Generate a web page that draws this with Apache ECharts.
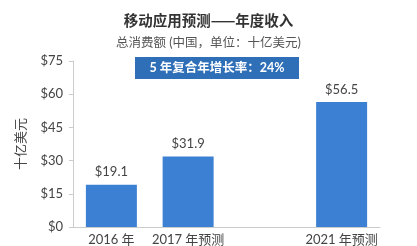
<!DOCTYPE html>
<html><head><meta charset="utf-8">
<script src="https://cdn.jsdelivr.net/npm/echarts@6/dist/echarts.min.js"></script>
<style>html,body{margin:0;padding:0;background:#fff}#c{width:417px;height:246px}</style>
</head><body><div id="c"></div>
<script>
const categories = ['2016 年', '2017 年预测', '', '2021 年预测'];
const revenue = [19.1, 31.9, null, 56.5];
const yTicks = [0, 15, 30, 45, 60, 75];
const titleText = '移动应用预测——年度收入';
const subtitleText = '总消费额 (中国，单位：十亿美元)';
const badgeText = '5 年复合年增长率：24%';
const yName = '十亿美元';

const chart = echarts.init(document.getElementById('c'));
const F = 'Lato,"Noto Sans CJK SC","Noto Sans",sans-serif';
const FC = '"Noto Sans CJK SC","Noto Sans",sans-serif';
chart.setOption({
  animation: false,
  textStyle: {fontFamily: F},
  title: {
    text: titleText, subtext: subtitleText, left: 'center', top: 8, itemGap: 9,
    textStyle: {fontSize: 14.5, fontWeight: 'bold', color: '#333', fontFamily: FC},
    subtextStyle: {fontSize: 12.5, color: '#555', fontFamily: F}
  },
  graphic: [{
    type: 'group', left: 135, top: 57,
    children: [
      {type: 'rect', shape: {x: 0, y: 0, width: 164, height: 22}, style: {fill: '#2f6fb8'}},
      {type: 'text', style: {text: badgeText, x: 82, y: 11, align: 'center', verticalAlign: 'middle', fill: '#fff', font: 'bold 12.5px ' + F}}
    ]
  }],
  grid: {left: 73, right: 37, top: 61, bottom: 18},
  xAxis: {
    type: 'category', data: categories,
    axisLine: {lineStyle: {color: '#cccccc'}},
    axisTick: {show: false},
    axisLabel: {color: '#444', fontSize: 13, margin: 6, interval: 0, fontFamily: F}
  },
  yAxis: {
    type: 'value', min: 0, max: 75, interval: 15,
    name: yName, nameLocation: 'middle', nameGap: 46, nameRotate: 90,
    nameTextStyle: {color: '#444', fontSize: 13, fontFamily: F},
    axisLine: {show: true, lineStyle: {color: '#cccccc'}},
    axisTick: {show: true, length: 4, lineStyle: {color: '#cccccc'}},
    splitLine: {show: false},
    axisLabel: {color: '#444', fontSize: 13, margin: 10, formatter: v => '$' + v, fontFamily: F}
  },
  series: [{
    type: 'bar', data: revenue, barWidth: 51,
    itemStyle: {color: '#3b80d2'},
    label: {show: true, position: 'top', distance: 6, color: '#444', fontSize: 13, formatter: p => '$' + p.value.toFixed(1), fontFamily: F}
  }]
});
</script></body></html>
